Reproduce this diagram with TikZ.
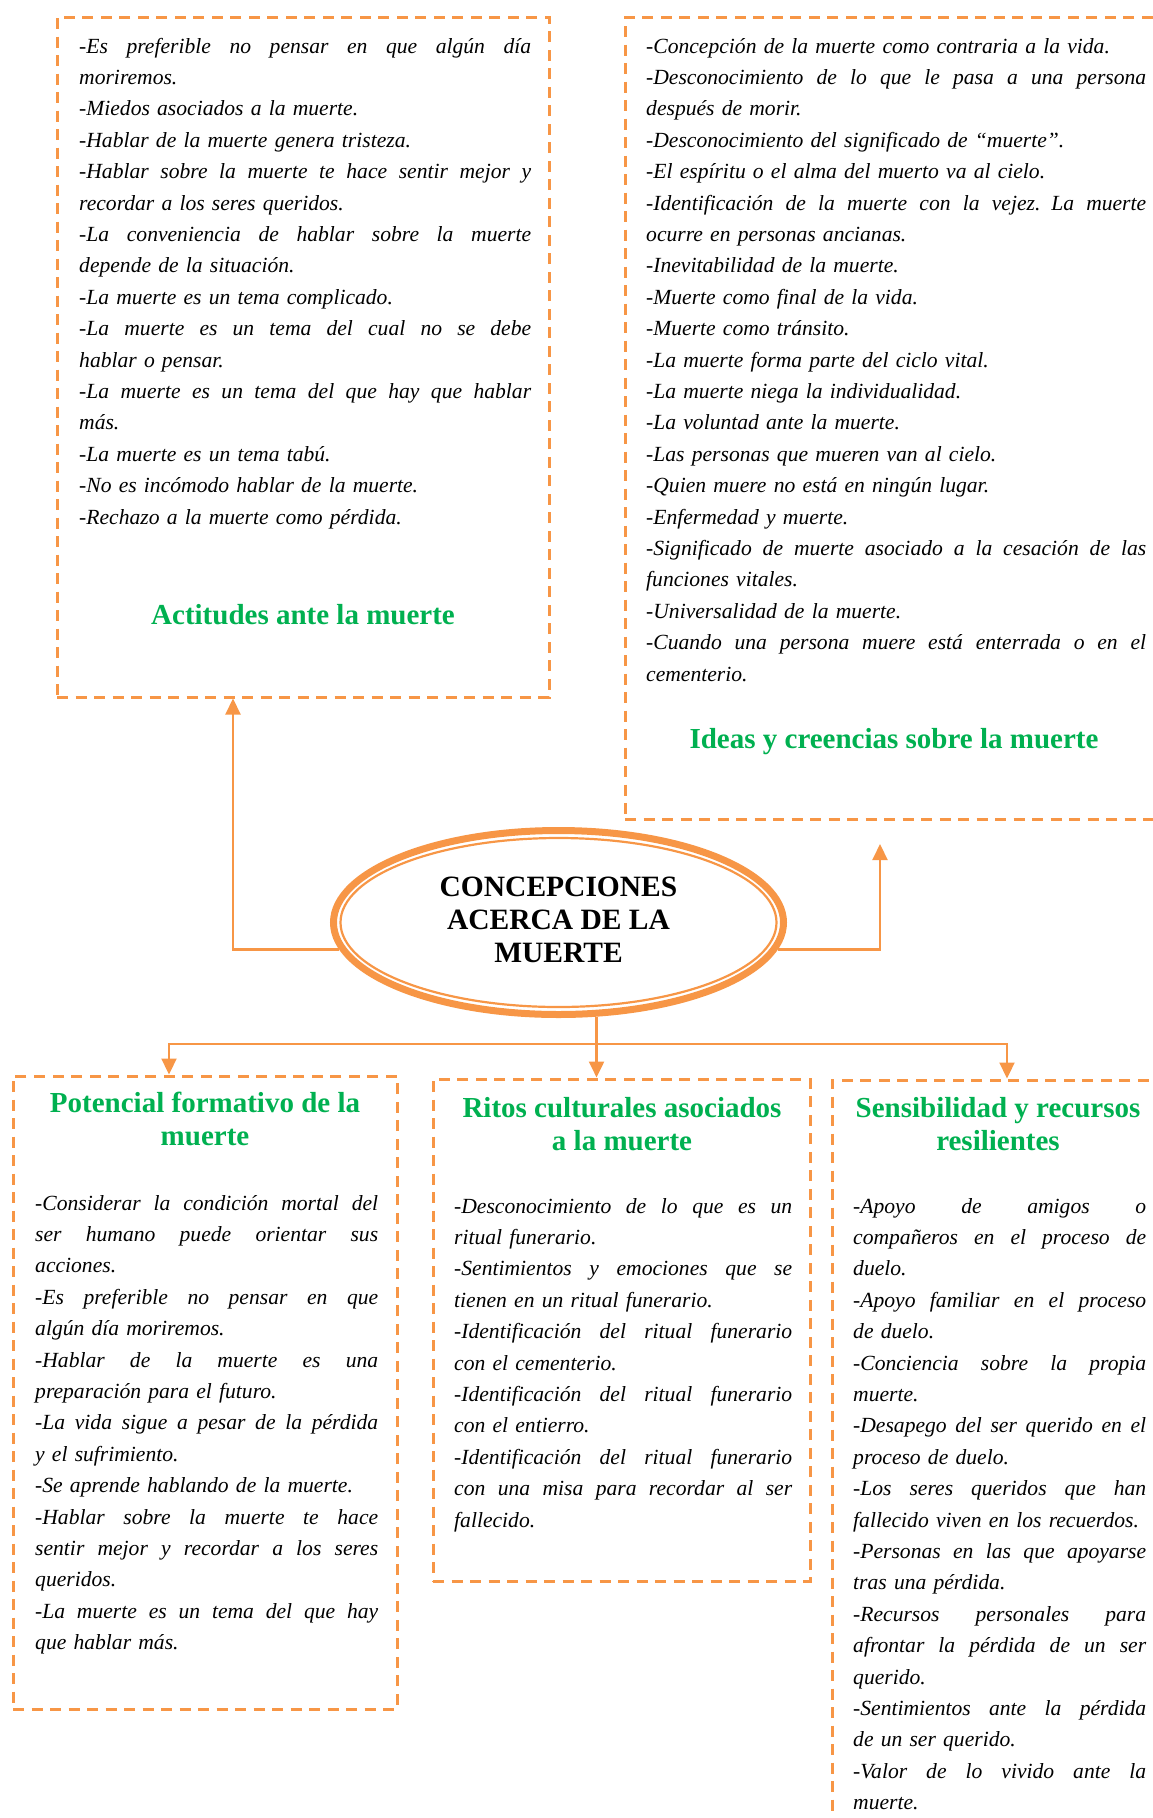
\documentclass[tikz,border=0pt]{standalone}
\usepackage{fontspec}
\setmainfont{Liberation Serif}
\usetikzlibrary{arrows.meta,shapes.geometric}
\setlength\parindent{0pt}
\definecolor{orng}{HTML}{F79646}
\definecolor{grn}{HTML}{00B050}
% justified line / free last line of a paragraph
\newlength\jw
\newcommand\jline[1]{\leavevmode\hbox to \jw{\spaceskip=0.25em plus 1fil\relax\strut#1}}
\newcommand\fline[1]{\leavevmode\hbox{\strut#1}}
\newcommand\bodyfont{\fontsize{21.6}{31.4}\selectfont\itshape}
\newcommand\headfont{\fontsize{29}{33}\selectfont\bfseries}
\begin{document}
\begin{tikzpicture}[x=1pt,y=-1pt,
  box/.style={draw=orng, line width=3pt, dash pattern=on 11pt off 7.5pt, rectangle, inner sep=0pt},
  body/.style={anchor=north west, inner sep=0pt, font=\bodyfont, text width=#1,
               execute at begin node={\setlength\jw{#1}}},
  head/.style={inner sep=0pt, font=\headfont, text=grn, align=center},
  conn/.style={draw=orng, line width=2.2pt},
  arr/.style={conn, -{Triangle[length=16pt,width=15pt]}},
]
\useasboundingbox (0,0) rectangle (1153,1818);
\clip (0,0) rectangle (1153,1818);

% dashed frames
\node[box, minimum width=492pt, minimum height=680pt] (tl) at (303,357) {};
\node[box, minimum width=575pt, minimum height=802pt] (tr) at (912.5,418) {};
\node[box, minimum width=384pt, minimum height=633pt] (pf) at (205,1392.5) {};
\node[box, minimum width=377pt, minimum height=502pt] (rc) at (621.5,1330) {};
\node[box, minimum width=368pt, minimum height=820pt] (sr) at (1016,1490) {};

% central ellipse (thick-thin double ring)
\node[ellipse, draw=orng, line width=7pt, minimum width=450pt, minimum height=184pt,
      inner sep=0pt, align=center, font=\fontsize{29.5}{33}\selectfont\bfseries] (c) at (558.5,922.5)
  {\strut CONCEPCIONES\\\strut ACERCA DE LA\\\strut MUERTE};
\draw[orng, line width=2.2pt] (c.center) ellipse [x radius=218pt, y radius=84.5pt];

% connectors
\coordinate (lx) at (233,0);
\draw[arr] (c.187.6) -| (tl.south -| lx);
\coordinate (rtip) at (880,844);
\draw[arr] (c.-7.6) -| (rtip);
\path (c.-68.8) ++(0,27) coordinate (bus);
\coordinate (p1) at (169,0);
\coordinate (p3) at (1007,0);
\draw[conn] (c.-68.8) -- (bus);
\draw[arr] (bus) -| (pf.north -| p1);
\draw[arr] (bus) -- (bus |- rc.north);
\draw[arr] (bus) -| (sr.north -| p3);

% headings
\node[head, anchor=base] (tlh) at (303,624) {Actitudes ante la muerte};
\node[head, anchor=base] (trh) at (894,748) {Ideas y creencias sobre la muerte};
\node[head, anchor=north] (pfh) at (205,1089) {\strut Potencial formativo de la\\\strut muerte};
\node[head, anchor=north] (rch) at (622,1094) {\strut Ritos culturales asociados\\\strut a la muerte};
\node[head, anchor=north] (srh) at (998,1094) {\strut Sensibilidad y recursos\\\strut resilientes};

% texts
\node[body=452pt] (tlt) at (79,31) {%
\jline{-Es preferible no pensar en que algún día}\\
\fline{moriremos.}\\
\fline{-Miedos asociados a la muerte.}\\
\fline{-Hablar de la muerte genera tristeza.}\\
\jline{-Hablar sobre la muerte te hace sentir mejor y}\\
\fline{recordar a los seres queridos.}\\
\jline{-La conveniencia de hablar sobre la muerte}\\
\fline{depende de la situación.}\\
\fline{-La muerte es un tema complicado.}\\
\jline{-La muerte es un tema del cual no se debe}\\
\fline{hablar o pensar.}\\
\jline{-La muerte es un tema del que hay que hablar}\\
\fline{más.}\\
\fline{-La muerte es un tema tabú.}\\
\fline{-No es incómodo hablar de la muerte.}\\
\fline{-Rechazo a la muerte como pérdida.}};

\node[body=500pt] (trt) at (646,31) {%
\fline{-Concepción de la muerte como contraria a la vida.}\\
\jline{-Desconocimiento de lo que le pasa a una persona}\\
\fline{después de morir.}\\
\fline{-Desconocimiento del significado de “muerte”.}\\
\fline{-El espíritu o el alma del muerto va al cielo.}\\
\jline{-Identificación de la muerte con la vejez. La muerte}\\
\fline{ocurre en personas ancianas.}\\
\fline{-Inevitabilidad de la muerte.}\\
\fline{-Muerte como final de la vida.}\\
\fline{-Muerte como tránsito.}\\
\fline{-La muerte forma parte del ciclo vital.}\\
\fline{-La muerte niega la individualidad.}\\
\fline{-La voluntad ante la muerte.}\\
\fline{-Las personas que mueren van al cielo.}\\
\fline{-Quien muere no está en ningún lugar.}\\
\fline{-Enfermedad y muerte.}\\
\jline{-Significado de muerte asociado a la cesación de las}\\
\fline{funciones vitales.}\\
\fline{-Universalidad de la muerte.}\\
\jline{-Cuando una persona muere está enterrada o en el}\\
\fline{cementerio.}};

\node[body=343pt] (pft) at (35,1188) {%
\jline{-Considerar la condición mortal del}\\
\jline{ser humano puede orientar sus}\\
\fline{acciones.}\\
\jline{-Es preferible no pensar en que}\\
\fline{algún día moriremos.}\\
\jline{-Hablar de la muerte es una}\\
\fline{preparación para el futuro.}\\
\jline{-La vida sigue a pesar de la pérdida}\\
\fline{y el sufrimiento.}\\
\fline{-Se aprende hablando de la muerte.}\\
\jline{-Hablar sobre la muerte te hace}\\
\jline{sentir mejor y recordar a los seres}\\
\fline{queridos.}\\
\jline{-La muerte es un tema del que hay}\\
\fline{que hablar más.}};

\node[body=338pt] (rct) at (454,1191) {%
\jline{-Desconocimiento de lo que es un}\\
\fline{ritual funerario.}\\
\jline{-Sentimientos y emociones que se}\\
\fline{tienen en un ritual funerario.}\\
\jline{-Identificación del ritual funerario}\\
\fline{con el cementerio.}\\
\jline{-Identificación del ritual funerario}\\
\fline{con el entierro.}\\
\jline{-Identificación del ritual funerario}\\
\jline{con una misa para recordar al ser}\\
\fline{fallecido.}};

\node[body=293pt] (srt) at (853,1191) {%
\jline{-Apoyo de amigos o}\\
\jline{compañeros en el proceso de}\\
\fline{duelo.}\\
\jline{-Apoyo familiar en el proceso}\\
\fline{de duelo.}\\
\jline{-Conciencia sobre la propia}\\
\fline{muerte.}\\
\jline{-Desapego del ser querido en el}\\
\fline{proceso de duelo.}\\
\jline{-Los seres queridos que han}\\
\fline{fallecido viven en los recuerdos.}\\
\jline{-Personas en las que apoyarse}\\
\fline{tras una pérdida.}\\
\jline{-Recursos personales para}\\
\jline{afrontar la pérdida de un ser}\\
\fline{querido.}\\
\jline{-Sentimientos ante la pérdida}\\
\fline{de un ser querido.}\\
\jline{-Valor de lo vivido ante la}\\
\fline{muerte.}};
\end{tikzpicture}
\end{document}
